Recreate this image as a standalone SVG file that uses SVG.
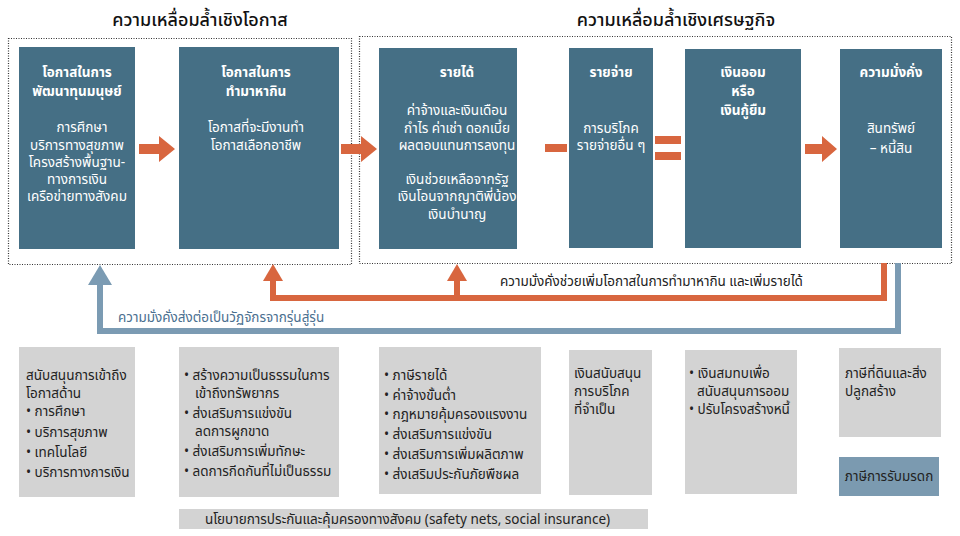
<svg xmlns="http://www.w3.org/2000/svg" width="960" height="536" viewBox="0 0 960 536">
<defs>
<style>
text{font-family:"Noto Sans Thai","Noto Sans","Liberation Sans",sans-serif;font-size:13.5px}
.h{font-size:18px;fill:#111;text-anchor:middle;font-weight:500}
.b{fill:#456f85}
.w{fill:#fff;text-anchor:middle}
.wb{fill:#fff;text-anchor:middle;font-weight:bold}
.g{fill:#d3d3d3}
.k{fill:#222}
.dot{fill:none;stroke:#333;stroke-width:1.2;stroke-dasharray:1 1.5}
.o{fill:#d8663f}
</style>
</defs>
<text class="h" x="200" y="26">ความเหลื่อมล้ำเชิงโอกาส</text>
<text class="h" x="676" y="26">ความเหลื่อมล้ำเชิงเศรษฐกิจ</text>
<rect class="dot" x="8.5" y="38.5" width="343" height="226"/>
<rect class="dot" x="359.5" y="36.5" width="592" height="227"/>

<g id="n1"><rect class="b" x="19" y="47" width="116" height="202"/>
<text class="wb" x="77" y="77">โอกาสในการ</text><text class="wb" x="77" y="96">พัฒนาทุนมนุษย์</text>
<text class="w" x="82" y="132">การศึกษา</text><text class="w" x="77" y="150">บริการทางสุขภาพ</text><text class="w" x="77" y="167">โครงสร้างพื้นฐาน-</text><text class="w" x="77" y="184">ทางการเงิน</text><text class="w" x="77" y="201">เครือข่ายทางสังคม</text></g>
<g id="n2"><rect class="b" x="179" y="47" width="160" height="202"/>
<text class="wb" x="256" y="77">โอกาสในการ</text><text class="wb" x="256" y="96">ทำมาหากิน</text>
<text class="w" x="256" y="132">โอกาสที่จะมีงานทำ</text><text class="w" x="256" y="150">โอกาสเลือกอาชีพ</text></g>
<g id="n3"><rect class="b" x="379" y="48" width="138" height="201"/>
<text class="wb" x="457" y="77">รายได้</text>
<text class="w" x="457" y="115">ค่าจ้างและเงินเดือน</text><text class="w" x="457" y="133">กำไร ค่าเช่า ดอกเบี้ย</text><text class="w" x="457" y="150">ผลตอบแทนการลงทุน</text>
<text class="w" x="457" y="184">เงินช่วยเหลือจากรัฐ</text><text class="w" x="457" y="201">เงินโอนจากญาติพี่น้อง</text><text class="w" x="457" y="219">เงินบำนาญ</text></g>
<g id="n4"><rect class="b" x="569" y="48" width="84" height="200"/>
<text class="wb" x="611" y="77">รายจ่าย</text>
<text class="w" x="611" y="133">การบริโภค</text><text class="w" x="611" y="150">รายจ่ายอื่น ๆ</text></g>
<g id="n5"><rect class="b" x="685" y="49" width="116" height="199"/>
<text class="wb" x="743" y="77">เงินออม</text><text class="wb" x="743" y="96">หรือ</text><text class="wb" x="743" y="115">เงินกู้ยืม</text></g>
<g id="n6"><rect class="b" x="840" y="49" width="102" height="199"/>
<text class="wb" x="891" y="77">ความมั่งคั่ง</text>
<text class="w" x="891" y="133">สินทรัพย์</text><text class="w" x="891" y="153">– หนี้สิน</text></g>

<g id="connectors">
<polygon class="o" points="139,144 159,144 159,136 175,149 159,162 159,154 139,154"/>
<polygon class="o" points="341,144 361,144 361,136 377,149 361,162 361,154 341,154"/>
<rect class="o" x="545" y="144" width="22" height="8"/>
<rect class="o" x="655" y="136" width="26" height="8"/><rect class="o" x="655" y="152" width="26" height="8"/>
<polygon class="o" points="805,144 822,144 822,136 837,149 822,162 822,154 805,154"/>
<polyline points="884,263 884,298 273,298 273,278" fill="none" stroke="#d8663f" stroke-width="6"/>
<line x1="457" y1="298" x2="457" y2="278" stroke="#d8663f" stroke-width="6"/>
<polygon class="o" points="263,281 273,264 283,281"/>
<polygon class="o" points="447,281 457,264 467,281"/>
<polyline points="898,263 898,331 100,331 100,282" fill="none" stroke="#7b9bb3" stroke-width="6"/>
<polygon fill="#7b9bb3" points="88,285 100,265 112,285"/>
<text x="500" y="286" fill="#222">ความมั่งคั่งช่วยเพิ่มโอกาสในการทำมาหากิน และเพิ่มรายได้</text>
<text x="118" y="322" fill="#4a6f8f">ความมั่งคั่งส่งต่อเป็นวัฏจักรจากรุ่นสู่รุ่น</text>
</g>

<g id="p1"><rect class="g" x="19" y="347" width="116" height="150"/>
<text class="k" x="26" y="380">สนับสนุนการเข้าถึง</text><text class="k" x="26" y="398">โอกาสด้าน</text>
<text class="k" x="26" y="416">• การศึกษา</text><text class="k" x="26" y="437">• บริการสุขภาพ</text><text class="k" x="26" y="457">• เทคโนโลยี</text><text class="k" x="26" y="477">• บริการทางการเงิน</text></g>
<g id="p2"><rect class="g" x="179" y="347" width="160" height="150"/>
<text class="k" x="184" y="380">•  สร้างความเป็นธรรมในการ</text><text class="k" x="195" y="398">เข้าถึงทรัพยากร</text>
<text class="k" x="184" y="418">•  ส่งเสริมการแข่งขัน</text><text class="k" x="195" y="436">ลดการผูกขาด</text>
<text class="k" x="184" y="456">•  ส่งเสริมการเพิ่มทักษะ</text><text class="k" x="184" y="476">•  ลดการกีดกันที่ไม่เป็นธรรม</text></g>
<g id="p3"><rect class="g" x="379" y="347" width="162" height="147"/>
<text class="k" x="384" y="380">•  ภาษีรายได้</text><text class="k" x="384" y="400">•  ค่าจ้างขั้นต่ำ</text><text class="k" x="384" y="419">•  กฎหมายคุ้มครองแรงงาน</text>
<text class="k" x="384" y="439">•  ส่งเสริมการแข่งขัน</text><text class="k" x="384" y="459">•  ส่งเสริมการเพิ่มผลิตภาพ</text><text class="k" x="384" y="479">•  ส่งเสริมประกันภัยพืชผล</text></g>
<g id="p4"><rect class="g" x="569" y="350" width="83" height="145"/>
<text class="k" x="574" y="378">เงินสนับสนุน</text><text class="k" x="574" y="396">การบริโภค</text><text class="k" x="574" y="414">ที่จำเป็น</text></g>
<g id="p5"><rect class="g" x="685" y="350" width="112" height="144"/>
<text class="k" x="689" y="378">• เงินสมทบเพื่อ</text><text class="k" x="697" y="396">สนับสนุนการออม</text><text class="k" x="689" y="414">• ปรับโครงสร้างหนี้</text></g>
<g id="p6"><rect class="g" x="839" y="348" width="102" height="89"/>
<text class="k" x="845" y="378">ภาษีที่ดินและสิ่ง</text><text class="k" x="845" y="396">ปลูกสร้าง</text></g>
<g id="p7"><rect fill="#7b9ab0" x="839" y="457" width="100" height="39"/>
<text class="k" x="889" y="481" text-anchor="middle">ภาษีการรับมรดก</text></g>
<g id="p8"><rect class="g" x="179" y="509" width="469" height="20"/>
<text class="k" x="205" y="524">นโยบายการประกันและคุ้มครองทางสังคม (safety nets, social insurance)</text></g>
</svg>
